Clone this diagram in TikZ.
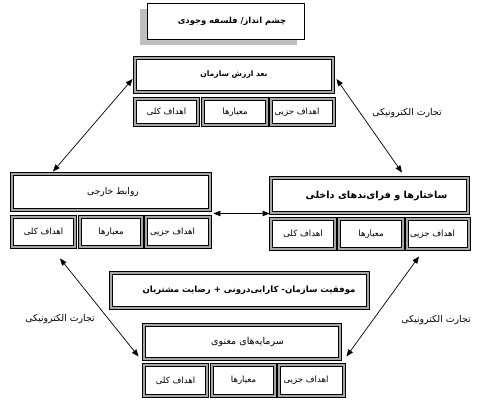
\documentclass[tikz,border=0pt]{standalone}
\usepackage{fontspec}
\usetikzlibrary{shadows,arrows.meta}
\TeXXeTstate=1
\newfontfamily\arfont[Script=Arabic]{DejaVu Sans}
\newcommand\fa[1]{{\arfont\beginR #1\endR}}
\newcommand\leftfa[1]{\makebox[56bp][l]{\fa{#1}}}
\begin{document}
\begin{tikzpicture}[x=1bp,y=-1bp,
  dbox/.style={draw=black, double=black!35, double distance=1.4bp, line width=0.95bp,
    fill=white, inner sep=0pt, font=\fontsize{8.6}{10}\selectfont},
  tbox/.style={draw=black, line width=0.9bp, fill=white, inner sep=0pt,
    font=\fontsize{8.4}{10}\selectfont\bfseries,
    drop shadow={shadow xshift=-7bp, shadow yshift=-6bp, fill=black!25, opacity=1}},
  conn/.style={{Triangle[length=7bp,width=5.5bp]}-{Triangle[length=7bp,width=5.5bp]}, line width=0.7bp},
  lbl/.style={font=\fontsize{9.4}{11}\selectfont, inner sep=0pt}
]
\useasboundingbox (0,0) rectangle (496,400);

% top
\node[tbox, minimum width=157bp, minimum height=36bp] (vis) at (225.5,21) {\hspace{13bp}\fa{چشم انداز/ فلسفه وجودی}};

% organisational value
\node[dbox, minimum width=198bp, minimum height=34bp, font=\fontsize{7.6}{9}\selectfont\bfseries] (org) at (234,75) {\fa{بعد ارزش سازمان}};
\node[dbox, minimum width=63bp, minimum height=26bp] (orgA) at (166.5,112) {\fa{اهداف کلی}};
\node[dbox, minimum width=64bp, minimum height=26bp] (orgB) at (235,112) {\fa{معیارها}};
\node[dbox, minimum width=63bp, minimum height=26bp] (orgC) at (302.5,112) {\leftfa{اهداف جزیی}};

% external relations
\node[dbox, minimum width=198bp, minimum height=36bp, font=\fontsize{9.2}{11}\selectfont] (ext) at (111,192) {\hspace{4bp}\fa{روابط خارجی}};
\node[dbox, minimum width=63bp, minimum height=30bp] (extA) at (43.5,232) {\fa{اهداف کلی}};
\node[dbox, minimum width=62bp, minimum height=30bp] (extB) at (111,232) {\fa{معیارها}};
\node[dbox, minimum width=64bp, minimum height=30bp] (extC) at (178,232) {\leftfa{اهداف جزیی}};

% internal structures
\node[dbox, minimum width=197bp, minimum height=35bp, font=\fontsize{9.7}{11}\selectfont\bfseries] (int) at (369.5,195.5) {\hspace{14bp}\fa{ساختارها و فرای‌ندهای داخلی}};
\node[dbox, minimum width=64bp, minimum height=30bp] (intA) at (303,234) {\fa{اهداف کلی}};
\node[dbox, minimum width=64bp, minimum height=30bp] (intB) at (371,234) {\fa{معیارها}};
\node[dbox, minimum width=62bp, minimum height=30bp] (intC) at (438,234) {\leftfa{اهداف جزیی}};

% success
\node[dbox, minimum width=257bp, minimum height=35bp, font=\fontsize{8.6}{10}\selectfont\bfseries] (suc) at (239.5,290.5) {\hspace{19bp}\fa{موفقیت سازمان- کارایی‌درونی + رضایت مشتریان}};

% spiritual capital
\node[dbox, minimum width=196bp, minimum height=34bp, font=\fontsize{9.6}{11}\selectfont] (cap) at (242,342) {\hspace{11bp}\fa{سرمایه‌های معنوی}};
\node[dbox, minimum width=63bp, minimum height=31bp] (capA) at (175.5,380.5) {\fa{اهداف کلی}};
\node[dbox, minimum width=63bp, minimum height=31bp] (capB) at (243.5,380.5) {\fa{معیارها}};
\node[dbox, minimum width=65bp, minimum height=31bp] (capC) at (311.5,380.5) {\leftfa{اهداف جزیی}};

% connectors
\draw[conn] ([shift={(-2,4)}]org.west) -- ([shift={(-58,-2)}]ext.north);
\draw[conn] ([shift={(3,4)}]org.east) -- ([shift={(32.5,-5)}]int.north);
\draw[conn] ([shift={(3,3)}]ext.south east) -- ([shift={(-1,0)}]int.south west);
\draw[conn] ([shift={(16.5,11)}]extA.south) -- ([shift={(-5,-3)}]cap.south west);
\draw[conn] ([shift={(-19,7)}]intC.south) -- ([shift={(6,-3)}]cap.south east);

% labels
\node[lbl] (l1) at (407,113) {\fa{تجارت الکترونیکی}};
\node[lbl] (l2) at (60,319) {\fa{تجارت الکترونیکی}};
\node[lbl] (l3) at (436,320) {\fa{تجارت الکترونیکی}};
\end{tikzpicture}
\end{document}
